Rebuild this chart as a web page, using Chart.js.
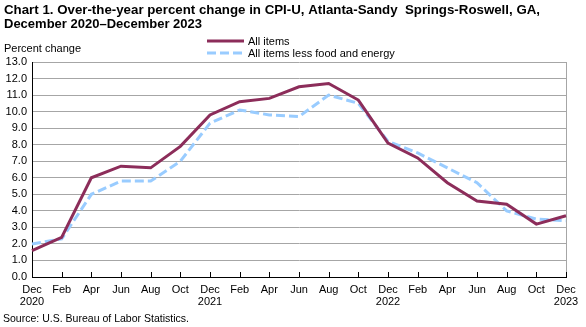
<!DOCTYPE html>
<html>
<head>
<meta charset="utf-8">
<script src="https://cdn.jsdelivr.net/npm/chart.js@4.4.1/dist/chart.umd.min.js"></script>
<style>
  html, body { margin: 0; padding: 0; background: #fff; }
  #wrap { width: 586px; height: 327px; position: relative; }
</style>
</head>
<body>
<div id="wrap"><canvas id="cpi-chart" width="586" height="327"></canvas></div>
<script>
const months = ['Dec', 'Feb', 'Apr', 'Jun', 'Aug', 'Oct', 'Dec', 'Feb', 'Apr', 'Jun', 'Aug', 'Oct', 'Dec', 'Feb', 'Apr', 'Jun', 'Aug', 'Oct', 'Dec']
const years = ['2020', '', '', '', '', '', '2021', '', '', '', '', '', '2022', '', '', '', '', '', '2023']
const allItems = [1.6, 2.4, 6.0, 6.7, 6.6, 7.9, 9.8, 10.6, 10.8, 11.5, 11.7, 10.7, 8.1, 7.2, 5.7, 4.6, 4.4, 3.2, 3.7]
const lessFoodEnergy = [2.0, 2.3, 5.0, 5.8, 5.8, 7.0, 9.3, 10.1, 9.8, 9.7, 11.0, 10.5, 8.2, 7.5, 6.6, 5.7, 4.0, 3.5, 3.4]

const titleLines = [
    'Chart 1. Over-the-year percent change in CPI-U, Atlanta-Sandy  Springs-Roswell, GA,',
    'December 2020\u2013December 2023'
]
const font = '"Liberation Sans", Arial, sans-serif'

const labels = months.map((m, i) => years[i] ? [m, years[i]] : m)

// titles, legend, source note and the inward x ticks
const decorations = {
    id: 'decorations',
    beforeDatasetsDraw(chart) {
        const { ctx, chartArea: a } = chart
        ctx.save()
        ctx.strokeStyle = '#a6a6a6'
        ctx.lineWidth = 1
        ctx.beginPath()
        ctx.moveTo(a.right + 0.5, a.top)
        ctx.lineTo(a.right + 0.5, a.bottom)
        ctx.stroke()
        ctx.restore()
    },
    afterDraw(chart) {
        const { ctx, chartArea: a } = chart
        const x = chart.scales.x
        ctx.save()

        ctx.strokeStyle = '#000'
        ctx.lineWidth = 1
        ctx.beginPath()
        for (let i = 0; i < labels.length; i++) {
            const px = Math.round(x.getPixelForTick(i)) + 0.5
            ctx.moveTo(px, a.bottom)
            ctx.lineTo(px, a.bottom - 5)
        }
        ctx.stroke()

        ctx.fillStyle = '#000'
        ctx.textBaseline = 'alphabetic'
        ctx.textAlign = 'left'
        ctx.font = 'bold 13.5px ' + font
        ctx.fillText(titleLines[0], 4, 14, 536)
        ctx.font = 'bold 13px ' + font
        ctx.fillText(titleLines[1], 4, 28)

        ctx.font = '11px ' + font
        ctx.fillText('Percent change', 4, 52)
        ctx.fillText('Source: U.S. Bureau of Labor Statistics.', 3, 322, 186)

        chart.data.datasets.forEach((ds, i) => {
            const ly = 41 + i * 12
            ctx.strokeStyle = ds.borderColor
            ctx.lineWidth = 3
            ctx.setLineDash(ds.borderDash || [])
            ctx.beginPath()
            ctx.moveTo(207, ly)
            ctx.lineTo(244, ly)
            ctx.stroke()
            ctx.setLineDash([])
            ctx.fillStyle = '#000'
            ctx.fillText(ds.label, 248, ly + 4)
        })
        ctx.restore()
    }
}

new Chart('cpi-chart', {
    type: 'line',
    data: {
        labels: labels,
        datasets: [{
            label: 'All items',
            data: allItems,
            borderColor: 'rgb(140, 45, 90)',
            borderWidth: 3,
            pointRadius: 0,
            tension: 0
        }, {
            label: 'All items less food and energy',
            data: lessFoodEnergy,
            borderColor: 'rgb(153, 204, 255)',
            borderWidth: 3,
            borderDash: [9, 4],
            pointRadius: 0,
            tension: 0
        }]
    },
    options: {
        responsive: false,
        animation: false,
        layout: { padding: { top: 62, right: 20, bottom: 0, left: 0 } },
        plugins: { legend: { display: false }, tooltip: { enabled: false } },
        scales: {
            x: {
                offset: false,
                afterFit(scale) { scale.height = 50 },
                grid: { display: false, drawTicks: false },
                border: { display: true, color: '#000', width: 1 },
                ticks: {
                    autoSkip: false,
                    maxRotation: 0,
                    padding: 7,
                    color: '#000',
                    font: { family: font, size: 11, lineHeight: 1.1 }
                }
            },
            y: {
                min: 0,
                max: 13,
                afterFit(scale) { scale.width = 32 },
                grid: { color: '#a6a6a6', drawTicks: false },
                border: { display: true, color: '#000', width: 1 },
                ticks: {
                    stepSize: 1,
                    padding: 5,
                    color: '#000',
                    font: { family: font, size: 11 },
                    callback: v => v.toFixed(1)
                }
            }
        }
    },
    plugins: [decorations]
})
</script>
</body>
</html>
